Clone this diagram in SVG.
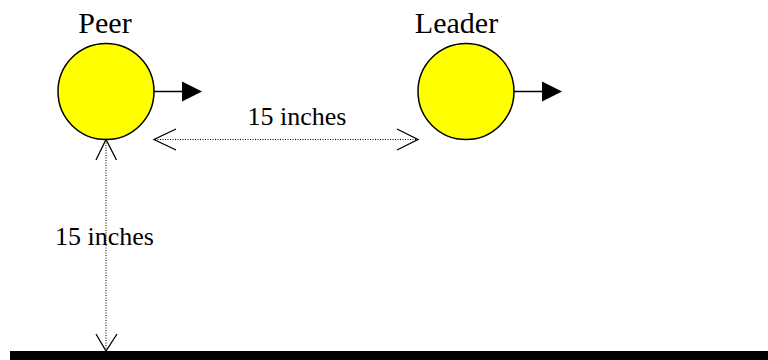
<svg xmlns="http://www.w3.org/2000/svg" width="768" height="360" viewBox="0 0 768 360">
<style>
.body{fill:#ffff00;stroke:#000;stroke-width:1.5}
.lbl{font-family:"Liberation Serif","Times New Roman",serif;fill:#000}
.dim{stroke:#000;stroke-width:1;stroke-dasharray:1 1.5;fill:none}
.vee{stroke:#000;stroke-width:1.3;fill:none}
.dir{stroke:#000;stroke-width:1.5}
.head{fill:#000}
</style>
<rect width="768" height="360" fill="#fff"/>
<g id="peer">
<text class="lbl" x="105" y="33" font-size="30" text-anchor="middle">Peer</text>
<circle class="body" cx="106" cy="91.5" r="48"/>
<line class="dir" x1="154" y1="91.5" x2="183" y2="91.5"/>
<polygon class="head" points="182,81.5 202,91.5 182,101.5"/>
</g>
<g id="leader">
<text class="lbl" x="456.5" y="33" font-size="30" text-anchor="middle">Leader</text>
<circle class="body" cx="466" cy="91.5" r="48"/>
<line class="dir" x1="514" y1="91.5" x2="543" y2="91.5"/>
<polygon class="head" points="542,81.5 562,91.5 542,101.5"/>
</g>
<g id="ground">
<rect x="10" y="351" width="758" height="9" fill="#000"/>
</g>
<text class="lbl" x="297" y="125" font-size="26" text-anchor="middle">15 inches</text>
<text class="lbl" x="104.5" y="245" font-size="26" text-anchor="middle">15 inches</text>
<g id="connectors">
<line class="dim" x1="155" y1="139.5" x2="417" y2="139.5"/>
<polyline class="vee" points="176,129 154,139.5 176,150"/>
<polyline class="vee" points="397,129 418,139.5 397,150"/>
<line class="dim" x1="106" y1="140" x2="106" y2="350"/>
<polyline class="vee" points="96,160 106,139.5 116.5,160"/>
<polyline class="vee" points="96,334 106,351 117,334"/>
</g>
</svg>
